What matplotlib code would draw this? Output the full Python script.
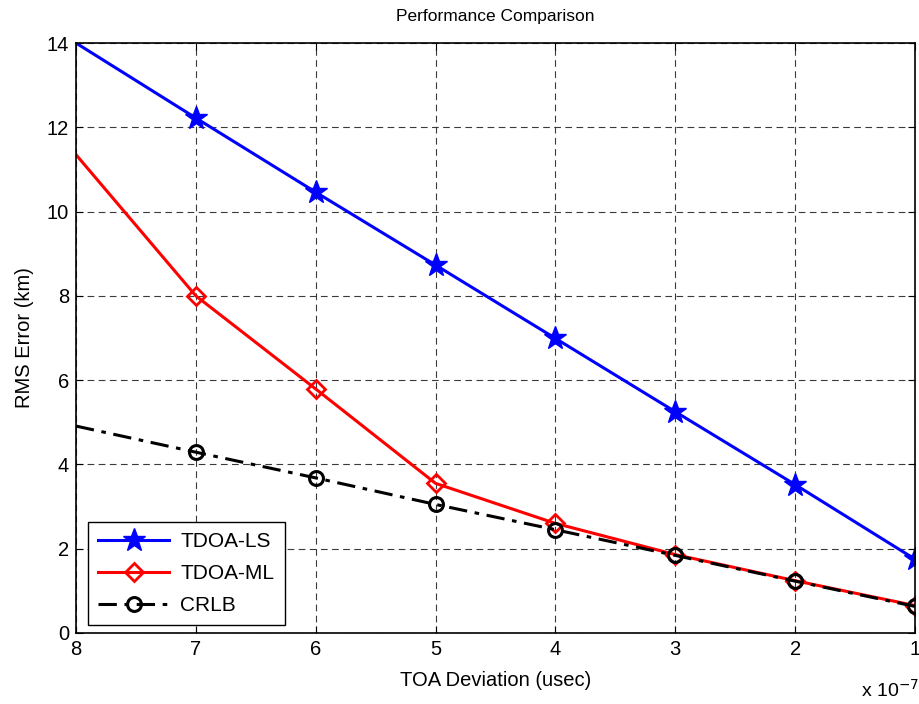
import numpy as np
import matplotlib
matplotlib.use('Agg')
import matplotlib.pyplot as plt
from matplotlib.ticker import FuncFormatter

plt.rcParams['font.family'] = ['Liberation Sans', 'DejaVu Sans']

# TOA deviation (seconds) and RMS errors (km)
toa_dev = np.array([8, 7, 6, 5, 4, 3, 2, 1]) * 1e-7
tdoa_ls = [14.0, 12.22, 10.46, 8.73, 6.99, 5.25, 3.52, 1.75]
tdoa_ml = [11.35, 8.0, 5.79, 3.55, 2.6, 1.86, 1.24, 0.65]
crlb = [4.91, 4.29, 3.68, 3.05, 2.45, 1.84, 1.23, 0.63]

fig = plt.figure(figsize=(9.2, 7.04), dpi=100)
ax = fig.add_axes([0.0826, 0.1009, 0.912, 0.838])

mk = slice(1, None)
ax.plot(toa_dev, tdoa_ls, color='blue', lw=2.2, marker='*', ms=17,
        markevery=mk, label='TDOA-LS')
ax.plot(toa_dev, tdoa_ml, color='red', lw=2.2, marker='D', ms=9,
        mfc='none', mew=2, markevery=mk, label='TDOA-ML')
ax.plot(toa_dev, crlb, color='black', lw=2.2, ls=(0, (6, 2.5, 1.5, 2.5)),
        marker='o', ms=10, mfc='none', mew=2.2, markevery=mk, label='CRLB')

ax.set_xlim(8e-7, 1e-7)
ax.set_ylim(0, 14)
ax.set_xticks(toa_dev)
ax.set_yticks(np.arange(0, 15, 2))
ax.xaxis.set_major_formatter(FuncFormatter(lambda v, p: '%d' % round(v / 1e-7)))
ax.tick_params(direction='in', top=True, right=True, labelsize=14.5,
               length=5, width=0.8, pad=5)
ax.grid(True, color='#3a3a3a', ls=(0, (6, 4)), lw=0.8)
for s in ax.spines.values():
    s.set_linewidth(1.2)

ax.set_title('Performance Comparison', fontsize=12.5, pad=16)
ax.set_xlabel('TOA Deviation (usec)', fontsize=14.5, labelpad=9)
ax.set_ylabel('RMS Error (km)', fontsize=14.5, labelpad=9)
fig.text(0.936, 0.01, r'x 10$^{-7}$', fontsize=14)

leg = ax.legend(loc='lower left', bbox_to_anchor=(0.014, 0.013), fontsize=15,
                fancybox=False, edgecolor='black', framealpha=1,
                handlelength=3.4, handletextpad=0.55, borderpad=0.5,
                labelspacing=0.62, borderaxespad=0)
leg.get_frame().set_linewidth(1.0)

fig.savefig('out.png', dpi=100)
